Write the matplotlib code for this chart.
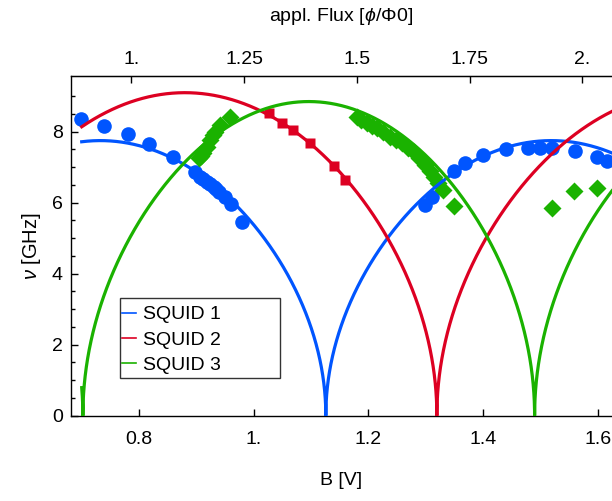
import numpy as np
import matplotlib
matplotlib.use("Agg")
import matplotlib.pyplot as plt
from matplotlib.patches import Rectangle

plt.rcParams['font.family'] = ['Liberation Sans', 'DejaVu Sans']
plt.rcParams['mathtext.fontset'] = 'custom'
plt.rcParams['mathtext.it'] = 'Liberation Sans:italic'

# measured points, B [V] and frequency [GHz]
b1 = [0.698, 0.739, 0.780, 0.818, 0.860, 0.898, 0.906, 0.912, 0.918, 0.924, 0.930,
      0.935, 0.940, 0.950, 0.960, 0.979,
      1.299, 1.311, 1.349, 1.369, 1.400, 1.440, 1.478, 1.500, 1.520, 1.560, 1.599, 1.616]
f1 = [8.35, 8.17, 7.95, 7.65, 7.28, 6.87, 6.73, 6.66, 6.59, 6.52, 6.45,
      6.38, 6.31, 6.15, 5.96, 5.46,
      5.94, 6.17, 6.90, 7.13, 7.34, 7.51, 7.55, 7.53, 7.53, 7.46, 7.30, 7.17]

b2 = [1.026, 1.049, 1.068, 1.098, 1.140, 1.159]
f2 = [8.52, 8.24, 8.05, 7.69, 7.04, 6.64]

b3 = [0.904, 0.908, 0.912, 0.918, 0.924, 0.929, 0.933, 0.941, 0.959,
      1.180, 1.188, 1.197, 1.206, 1.215, 1.226, 1.238, 1.248, 1.258, 1.269, 1.279,
      1.289, 1.299, 1.307, 1.314, 1.322, 1.331, 1.349,
      1.520, 1.559, 1.599]
f3 = [7.25, 7.32, 7.39, 7.58, 7.77, 7.90, 8.00, 8.19, 8.42,
      8.42, 8.33, 8.24, 8.17, 8.10, 7.98, 7.86, 7.77, 7.67, 7.55, 7.44,
      7.25, 7.06, 6.90, 6.73, 6.55, 6.36, 5.91,
      5.86, 6.34, 6.41]

# fit parameters: max frequency, flux period [V], position of maximum [V]
fmax = [7.75, 9.10, 8.85]
period = [0.7866, 0.879, 0.788]
bmax = [0.7325, 0.880, 1.096]
names = ['SQUID 1', 'SQUID 2', 'SQUID 3']
colors = ['#0055ff', '#dd0022', '#1ab200']

fig = plt.figure(figsize=(6.12, 5.01), dpi=100)
ax = fig.add_axes([71/612, (501-415.7)/501, 1 - 71/612, (415.7-76)/501])

B = np.linspace(0.70, 1.625, 6000)
for k in range(3):
    B_all = np.sort(np.concatenate([B, [bmax[k] + period[k]*(n + 0.5) for n in range(-2, 3)]]))
    B_all = B_all[(B_all >= 0.70) & (B_all <= 1.625)]
    f = fmax[k] * np.sqrt(np.abs(np.cos(np.pi * (B_all - bmax[k]) / period[k])))
    ax.plot(B_all, f, color=colors[k], lw=2.3, label=names[k], zorder=3)

ax.plot(b1, f1, 'o', color=colors[0], ms=10.5, mec='none', zorder=2)
ax.plot(b2, f2, 's', color=colors[1], ms=7, mec='none', zorder=2)
ax.plot(b3, f3, 'D', color=colors[2], ms=9.5, mec='none', zorder=2)

ax.set_xlim(0.6813, 1.625)
ax.set_ylim(0, 9.57)
ax.set_xticks([0.8, 1.0, 1.2, 1.4, 1.6])
ax.set_xticklabels(['0.8', '1.', '1.2', '1.4', '1.6'])
ax.set_yticks([0, 2, 4, 6, 8])
ax.set_yticks(np.arange(0.5, 9.5, 0.5), minor=True)
ax.tick_params(axis='both', which='major', direction='in', length=5, width=1, labelsize=14)
ax.tick_params(axis='x', pad=11)
ax.tick_params(axis='y', pad=6)
ax.tick_params(axis='y', which='minor', direction='in', length=3, width=1)
ax.spines['right'].set_visible(False)
for s in ['left', 'bottom', 'top']:
    ax.spines[s].set_linewidth(1.0)

ax.set_xlabel('B [V]', fontsize=14, labelpad=17)
ax.set_ylabel(r'$\nu$ [GHz]', fontsize=14.5, labelpad=6)

k_flux = 1.2713
top = ax.secondary_xaxis('top', functions=(lambda x: x * k_flux, lambda x: x / k_flux))
top.set_xticks([1.0, 1.25, 1.5, 1.75, 2.0])
top.set_xticklabels(['1.', '1.25', '1.5', '1.75', '2.'])
top.tick_params(direction='in', length=5, width=1, labelsize=14, pad=6)
top.set_xlabel(r'appl. Flux [$\phi$/Φ0]', fontsize=14, labelpad=21)

# legend box drawn separately, Mathematica style with wide right margin
ax.add_patch(Rectangle((0.0906, 0.111), 0.2954, 0.2355, transform=ax.transAxes,
                       facecolor='white', edgecolor='#333333', lw=1.0, zorder=4))
leg = ax.legend(loc='upper left', bbox_to_anchor=(0.0795, 0.3465), fontsize=14,
                frameon=False, handlelength=0.75, handletextpad=0.35, borderpad=0.4,
                borderaxespad=0, labelspacing=0.4)
leg.set_zorder(5)
for line in leg.get_lines():
    line.set_linewidth(1.2)

fig.savefig('out.png', dpi=100)
